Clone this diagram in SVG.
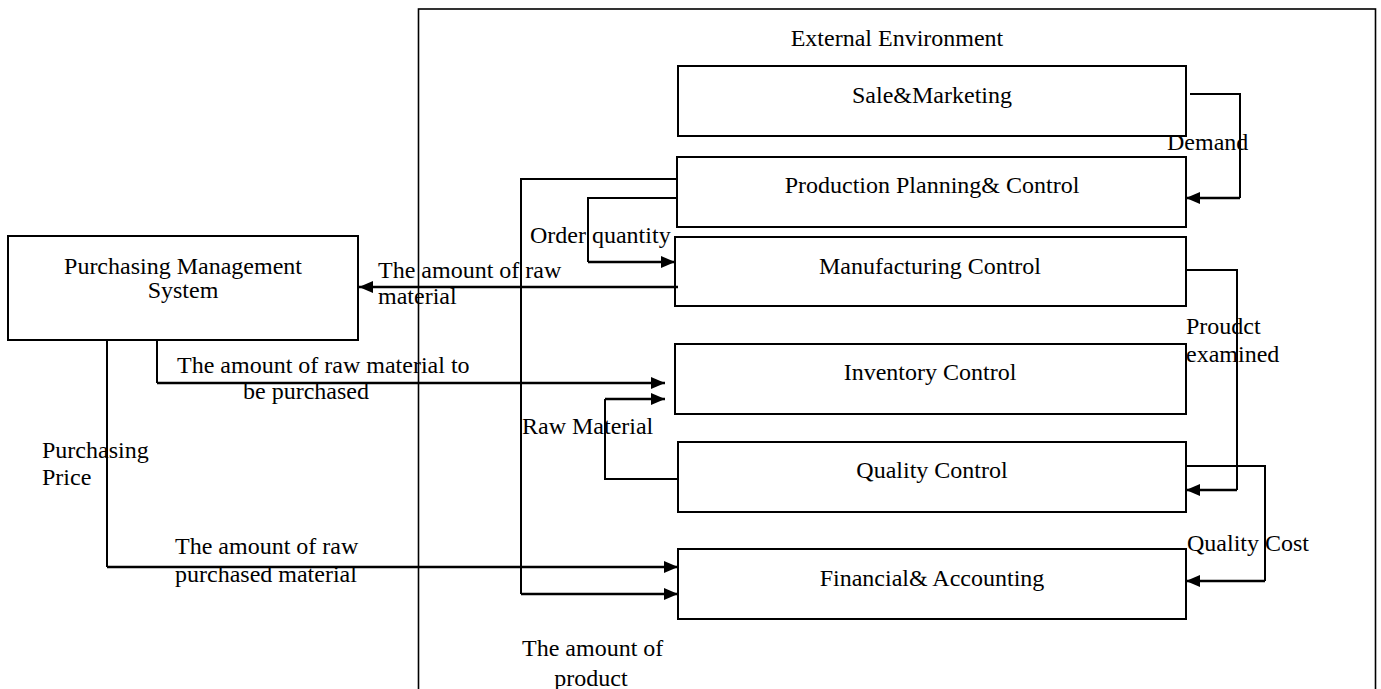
<svg xmlns="http://www.w3.org/2000/svg" width="1381" height="689" viewBox="0 0 1381 689">
<style>
.box{fill:#fff;stroke:#000;stroke-width:2}
.frame{fill:none;stroke:#000;stroke-width:1.6}
.t{font-family:"Liberation Serif","Times New Roman",serif;font-size:24px;fill:#000}
.c{text-anchor:middle}
.ln{fill:none;stroke:#000;stroke-width:2}
.ar{fill:none;stroke:#000;stroke-width:2.5;marker-end:url(#ah)}
</style>
<defs>
<marker id="ah" markerUnits="userSpaceOnUse" markerWidth="14" markerHeight="12" refX="14" refY="6" orient="auto">
<path d="M0,0 L14,6 L0,12 z" fill="#000"/>
</marker>
</defs>
<rect width="1381" height="689" fill="#fff"/>
<g id="external">
<rect class="frame" x="418.5" y="9" width="957" height="700"/>
<text class="t c" x="897" y="46">External Environment</text>
</g>
<g id="sale">
<rect class="box" x="678" y="66" width="508" height="70"/>
<text class="t c" x="932" y="103">Sale&amp;Marketing</text>
</g>
<g id="ppc">
<rect class="box" x="677" y="157" width="509" height="70"/>
<text class="t c" x="932" y="193">Production Planning&amp; Control</text>
</g>
<g id="mfg">
<rect class="box" x="675" y="237" width="511" height="69"/>
<text class="t c" x="930" y="274">Manufacturing Control</text>
</g>
<g id="inv">
<rect class="box" x="675" y="344" width="511" height="70"/>
<text class="t c" x="930" y="380">Inventory Control</text>
</g>
<g id="qc">
<rect class="box" x="678" y="442" width="508" height="70"/>
<text class="t c" x="932" y="478">Quality Control</text>
</g>
<g id="fin">
<rect class="box" x="678" y="549" width="508" height="70"/>
<text class="t c" x="932" y="586">Financial&amp; Accounting</text>
</g>
<g id="pms">
<rect class="box" x="8" y="236" width="350" height="104"/>
<text class="t c" x="183" y="274">Purchasing Management</text>
<text class="t c" x="183" y="298">System</text>
</g>
<g id="connectors">
<path class="ln" d="M1190,94 H1240 V198"/>
<path class="ar" d="M1240,198 H1186"/>
<path class="ln" d="M1186,270 H1237 V490"/>
<path class="ar" d="M1237,490 H1186"/>
<path class="ln" d="M1186,466 H1265 V581"/>
<path class="ar" d="M1265,581 H1186"/>
<path class="ln" d="M676,198 H588 V262"/>
<path class="ar" d="M588,262 H675"/>
<path class="ar" d="M678,287 H359"/>
<path class="ln" d="M676,179 H521 V594"/>
<path class="ar" d="M521,594 H678"/>
<path class="ln" d="M157,340 V383"/>
<path class="ar" d="M157,383 H665"/>
<path class="ln" d="M678,479 H605 V399"/>
<path class="ar" d="M605,399 H665"/>
<path class="ln" d="M107,340 V567"/>
<path class="ar" d="M107,567 H678"/>
</g>
<g id="labels">
<text class="t" x="1167" y="150">Demand</text>
<text class="t" x="530" y="243">Order quantity</text>
<text class="t" x="378" y="278">The amount of raw</text>
<text class="t" x="378" y="304">material</text>
<text class="t" x="177" y="373">The amount of raw material to</text>
<text class="t c" x="306" y="399">be purchased</text>
<text class="t" x="42" y="458">Purchasing</text>
<text class="t" x="42" y="485">Price</text>
<text class="t" x="175" y="554">The amount of raw</text>
<text class="t" x="175" y="582">purchased material</text>
<text class="t" x="522" y="434">Raw Material</text>
<text class="t" x="1186" y="334">Proudct</text>
<text class="t" x="1186" y="362">examined</text>
<text class="t" x="1187" y="551">Quality Cost</text>
<text class="t" x="522" y="656">The amount of</text>
<text class="t c" x="591" y="686">product</text>
</g>
</svg>
